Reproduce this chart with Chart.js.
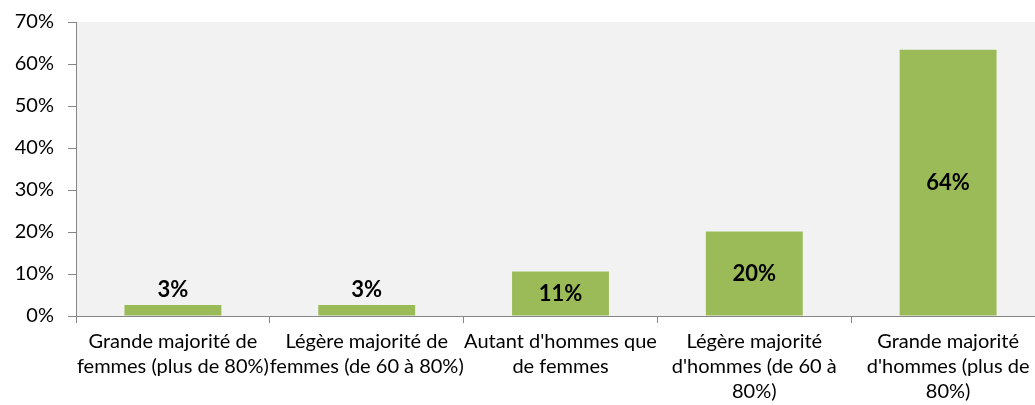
<!DOCTYPE html>
<html>
<head>
<meta charset="utf-8">
<script src="https://cdn.jsdelivr.net/npm/chart.js@4.4.1/dist/chart.umd.min.js"></script>
<style>
html,body{margin:0;padding:0;background:#fff;overflow:hidden;}
#c{display:block;}
</style>
</head>
<body>
<canvas id="c" width="1045" height="405"></canvas>
<script>
const categories = [
  ["Grande majorité de", "femmes (plus de 80%)"],
  ["Légère majorité de", "femmes (de 60 à 80%)"],
  ["Autant d'hommes que", "de femmes"],
  ["Légère majorité", "d'hommes (de 60 à", "80%)"],
  ["Grande majorité", "d'hommes (plus de", "80%)"]
];
const values = [2.6, 2.6, 10.6, 20.1, 63.4];
const valueLabels = ["3%", "3%", "11%", "20%", "64%"];
const yTicks = [0, 10, 20, 30, 40, 50, 60, 70];

const FONT = "Lato, 'Open Sans', sans-serif";

const bgPlugin = {
  id: 'bg',
  beforeDraw(chart) {
    const {ctx, chartArea: a} = chart;
    ctx.save();
    ctx.fillStyle = '#f2f2f2';
    ctx.fillRect(a.left, a.top, a.right - a.left, a.bottom - a.top);
    ctx.restore();
  }
};

const labelPlugin = {
  id: 'vlabels',
  afterDatasetsDraw(chart) {
    const {ctx} = chart;
    const meta = chart.getDatasetMeta(0);
    ctx.save();
    ctx.font = "bold 22px " + FONT;
    ctx.fillStyle = '#000';
    ctx.textAlign = 'center';
    ctx.textBaseline = 'middle';
    meta.data.forEach((bar, i) => {
      const h = bar.base - bar.y;
      const y = h < 30 ? bar.y - 15 : (bar.y + bar.base) / 2;
      ctx.fillText(valueLabels[i], bar.x, y);
    });
    ctx.restore();
  }
};

new Chart(document.getElementById('c'), {
  type: 'bar',
  data: {
    labels: categories,
    datasets: [{
      data: values,
      backgroundColor: '#9bbb59',
      borderWidth: 0,
      barPercentage: 0.5,
      categoryPercentage: 1.0
    }]
  },
  options: {
    responsive: false,
    animation: false,
    layout: {padding: {top: 22, right: 0, left: 0, bottom: 0}},
    plugins: {legend: {display: false}, tooltip: {enabled: false}},
    scales: {
      x: {
        grid: {display: true, offset: true, drawOnChartArea: false, tickLength: 7, color: '#868686', lineWidth: 1},
        border: {display: true, color: '#868686', width: 1},
        ticks: {
          color: '#000',
          font: {family: FONT, size: 20, lineHeight: 25/20},
          padding: 6,
          maxRotation: 0,
          autoSkip: false
        },
        afterFit(s) { s.height = 89; s.paddingLeft = 0; s.paddingRight = 0; }
      },
      y: {
        min: 0,
        max: 70,
        afterBuildTicks(s) { s.ticks = yTicks.map(v => ({value: v})); },
        grid: {display: true, drawOnChartArea: false, tickLength: 8, color: '#868686', lineWidth: 1},
        border: {display: true, color: '#868686', width: 1},
        ticks: {
          color: '#000',
          font: {family: FONT, size: 20},
          padding: 14,
          callback: v => v + '%'
        },
        afterFit(s) { s.width = 76; s.paddingTop = 0; s.paddingBottom = 0; }
      }
    }
  },
  plugins: [bgPlugin, labelPlugin]
});
</script>
</body>
</html>
